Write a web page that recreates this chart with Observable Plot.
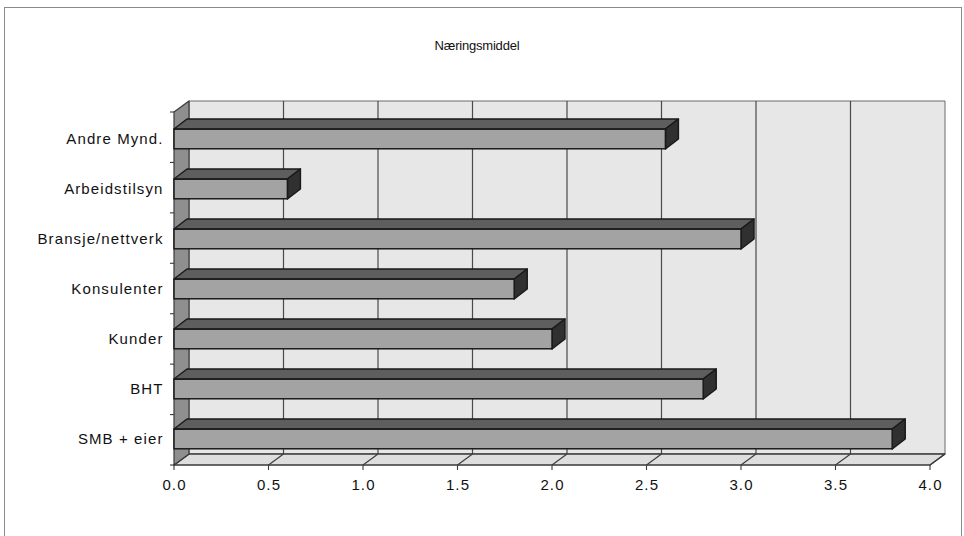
<!DOCTYPE html>
<html><head><meta charset="utf-8">
<script src="https://cdn.jsdelivr.net/npm/d3@7"></script>
<script src="https://cdn.jsdelivr.net/npm/@observablehq/plot@0.6"></script>
<style>
body{margin:0;background:#fff;}
#wrap{position:relative;width:964px;height:536px;overflow:hidden;background:#fff;}
#chart{position:absolute;left:0;top:0;}
#frame{position:absolute;left:4px;top:7px;width:956px;height:580px;border:1px solid #8a8a8a;pointer-events:none;}
#title{position:absolute;left:0;top:38px;width:954px;text-align:center;font:13px "Liberation Sans",Arial,sans-serif;color:#111;letter-spacing:-0.2px;}
#chart svg text{letter-spacing:1.1px;}
</style></head><body>
<div id="wrap"><div id="chart"></div><div id="frame"></div><div id="title"></div></div>
<script>
const titleText = "Næringsmiddel";
const categories = ["Andre Mynd.","Arbeidstilsyn","Bransje/nettverk","Konsulenter","Kunder","BHT","SMB + eier"];
const values = [2.6, 0.6, 3.0, 1.8, 2.0, 2.8, 3.8];
const xTicks = [0, 0.5, 1, 1.5, 2, 2.5, 3, 3.5, 4];

const data = categories.map((c, i) => ({category: c, value: values[i]}));
document.getElementById("title").textContent = titleText;

const W = 964, H = 536;
const mL = 174, mR = 34, mT = 112, mB = 71;
const DX = 15, DY = 11;      // wall depth offset
const BDX = 13, BDY = 10;    // bar depth offset
const FH = 20;               // bar front face height
const bandH = (H - mT - mB) / categories.length;
const inset = (bandH - FH) / 2;

function poly(g, pts, fill, stroke, sw) {
  g.append("polygon").attr("points", pts.map(p => p.join(",")).join(" "))
    .attr("fill", fill).attr("stroke", stroke || "none").attr("stroke-width", sw || 1)
    .attr("stroke-linejoin", "round");
}

function walls(index, scales, values, dims) {
  const {x} = scales;
  const x0 = x(0), x1 = x(4);
  const yTop = dims.marginTop, yBot = dims.height - dims.marginBottom;
  const g = d3.create("svg:g");
  // back wall
  poly(g, [[x0 + DX, yTop - DY], [x1 + DX, yTop - DY], [x1 + DX, yBot - DY], [x0 + DX, yBot - DY]], "#e7e7e7", "#6a6a6a", 1);
  // gridlines
  xTicks.slice(1, -1).forEach(t => {
    g.append("line").attr("x1", x(t) + DX).attr("x2", x(t) + DX)
      .attr("y1", yTop - DY).attr("y2", yBot - DY).attr("stroke", "#4a4a4a").attr("stroke-width", 1.2);
  });
  // floor
  poly(g, [[x0, yBot], [x1, yBot], [x1 + DX, yBot - DY], [x0 + DX, yBot - DY]], "#dedede", "#3a3a3a", 1.3);
  // floor tick diagonals and small ticks
  xTicks.forEach(t => {
    g.append("line").attr("x1", x(t)).attr("x2", x(t) + DX)
      .attr("y1", yBot).attr("y2", yBot - DY).attr("stroke", "#3a3a3a").attr("stroke-width", 1.1);
    g.append("line").attr("x1", x(t)).attr("x2", x(t))
      .attr("y1", yBot).attr("y2", yBot + 5).attr("stroke", "#3a3a3a").attr("stroke-width", 1.1);
  });
  // left wall
  poly(g, [[x0, yTop], [x0 + DX, yTop - DY], [x0 + DX, yBot - DY], [x0, yBot]], "#8f8f8f", "#3a3a3a", 1.2);
  // y ticks at category boundaries
  for (let k = 0; k <= categories.length; k++) {
    const yy = yTop + k * (yBot - yTop) / categories.length;
    g.append("line").attr("x1", x0 - 4).attr("x2", x0).attr("y1", yy).attr("y2", yy)
      .attr("stroke", "#3a3a3a").attr("stroke-width", 1.1);
  }
  return g.node();
}

function barFaces(index, scales, values, dims) {
  const {x, y} = scales;
  const bw = y.bandwidth();
  const g = d3.create("svg:g");
  data.forEach(d => {
    const yf = y(d.category) + (bw - FH) / 2;
    const xa = x(0), xb = x(d.value);
    poly(g, [[xa, yf], [xb, yf], [xb + BDX, yf - BDY], [xa + BDX, yf - BDY]], "#5e5e5e", "#1a1a1a", 1.5);
    poly(g, [[xb, yf], [xb + BDX, yf - BDY], [xb + BDX, yf + FH - BDY], [xb, yf + FH]], "#303030", "#1a1a1a", 1.5);
  });
  return g.node();
}

const chart = Plot.plot({
  width: W, height: H,
  marginLeft: mL, marginRight: mR, marginTop: mT, marginBottom: mB,
  style: {fontSize: "15px", fontFamily: "'Liberation Sans', Arial, sans-serif", color: "#111", background: "transparent"},
  x: {domain: [0, 4], ticks: xTicks, tickFormat: d3.format(".1f"), tickSize: 0, tickPadding: 14, label: null},
  y: {domain: categories, padding: 0, tickSize: 0, tickPadding: 11, label: null},
  marks: [
    walls,
    barFaces,
    Plot.barX(data, {x: "value", y: "category", fill: "#a3a3a3", stroke: "#1a1a1a", strokeWidth: 1.5,
      insetTop: inset, insetBottom: inset})
  ]
});
document.getElementById("chart").appendChild(chart);
</script>
</body></html>
